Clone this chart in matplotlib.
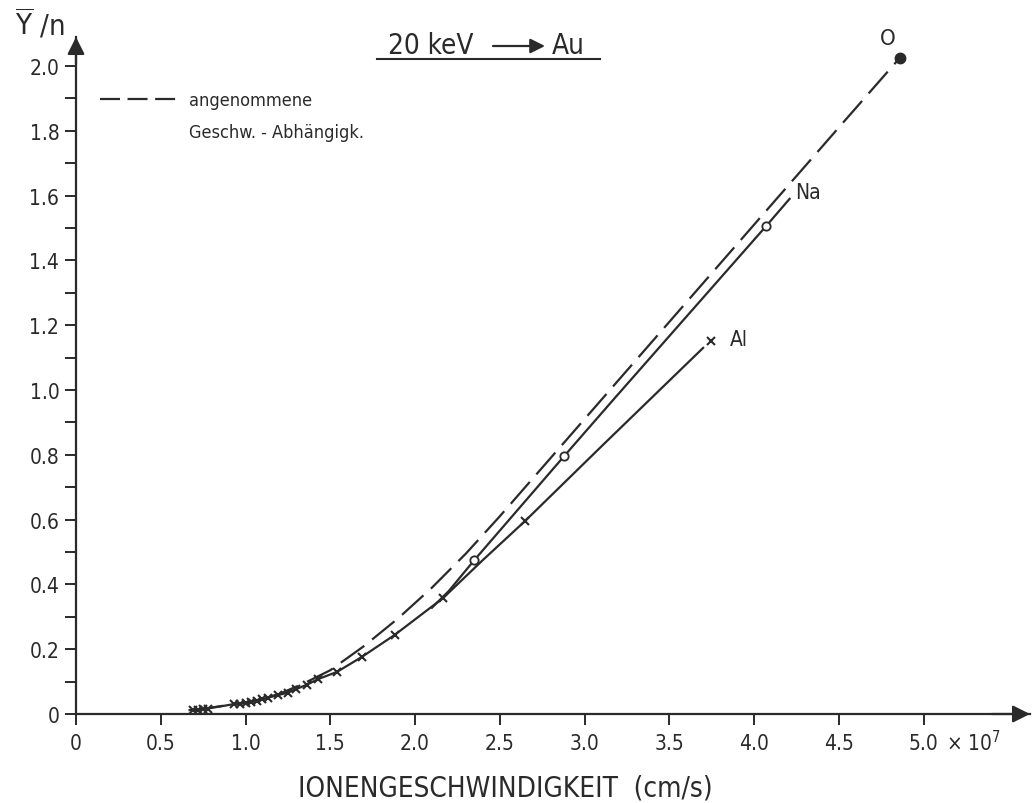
import numpy as np
import matplotlib.pyplot as plt
from matplotlib.lines import Line2D
from matplotlib.ticker import FixedLocator, MultipleLocator

plt.rcParams['font.family'] = 'DejaVu Sans'
plt.rcParams['font.stretch'] = 'condensed'
plt.rcParams['mathtext.fontset'] = 'dejavusans'

ink = '#2a2a2a'

# ion velocity in 1e7 cm/s, yield per ion Y/n
# assumed velocity dependence (dashed), ends at the O point
dash_x = [0.70, 0.90, 1.05, 1.20, 1.35, 1.50, 1.70, 1.90, 2.10, 2.30, 2.50, 3.00, 3.50, 4.00, 4.50, 4.86]
dash_y = [0.012, 0.028, 0.040, 0.062, 0.096, 0.135, 0.210, 0.295, 0.390, 0.495, 0.610, 0.910, 1.210, 1.510, 1.810, 2.025]

o_x = [4.86]
o_y = [2.025]

# Na: measured points and drawn curve
na_x = [2.35, 2.88, 4.07]
na_y = [0.475, 0.796, 1.505]
na_line_x = [2.10, 2.20, 2.35, 2.88, 3.17, 4.07, 4.21]
na_line_y = [0.328, 0.380, 0.475, 0.796, 0.970, 1.505, 1.590]

# Al: measured points and drawn curve
al_x = [0.69, 0.72, 0.75, 0.78, 0.935, 0.97, 1.005, 1.035, 1.065, 1.10, 1.13, 1.19, 1.25,
        1.30, 1.36, 1.43, 1.54, 1.686, 1.88, 2.166, 2.65, 3.745]
al_y = [0.012, 0.013, 0.014, 0.015, 0.032, 0.030, 0.033, 0.036, 0.040, 0.045, 0.050, 0.058, 0.066,
        0.077, 0.090, 0.108, 0.130, 0.176, 0.244, 0.358, 0.596, 1.151]
al_line_x = [0.67, 0.76, 0.86, 0.935, 1.005, 1.065, 1.13, 1.19, 1.25, 1.30, 1.36, 1.43, 1.54,
             1.686, 1.88, 2.166, 2.40, 2.65, 3.10, 3.70]
al_line_y = [0.012, 0.016, 0.024, 0.031, 0.033, 0.040, 0.050, 0.058, 0.066, 0.077, 0.090, 0.108, 0.130,
             0.176, 0.244, 0.358, 0.475, 0.596, 0.826, 1.130]

x_ticks = [0, 0.5, 1.0, 1.5, 2.0, 2.5, 3.0, 3.5, 4.0, 4.5, 5.0]
x_labels = ['0', '0.5', '1.0', '1.5', '2.0', '2.5', '3.0', '3.5', '4.0', '4.5', '5.0']
y_ticks = [0, 0.2, 0.4, 0.6, 0.8, 1.0, 1.2, 1.4, 1.6, 1.8, 2.0]
y_labels = ['0', '0.2', '0.4', '0.6', '0.8', '1.0', '1.2', '1.4', '1.6', '1.8', '2.0']

W, H = 1032, 804
fig = plt.figure(figsize=(W / 100, H / 100), dpi=100)
ax = fig.add_axes([76 / W, 89 / H, (1030 - 76) / W, (715 - 38) / H])
ax.set_xlim(0, (1030 - 76) / 169.5)
ax.set_ylim(0, (715 - 38) / 324)

for s in ['top', 'right']:
    ax.spines[s].set_visible(False)
for s in ['left', 'bottom']:
    ax.spines[s].set_linewidth(1.6)
    ax.spines[s].set_color(ink)

# arrow heads on the axes
ax.annotate('', xy=(1, 0), xycoords='axes fraction', xytext=(0.96, 0),
            arrowprops=dict(arrowstyle='-|>', mutation_scale=26, color=ink, lw=1.6,
                            shrinkA=0, shrinkB=0))
ax.annotate('', xy=(0, 1), xycoords='axes fraction', xytext=(0, 0.96),
            arrowprops=dict(arrowstyle='-|>', mutation_scale=26, color=ink, lw=1.6,
                            shrinkA=0, shrinkB=0))

ax.xaxis.set_major_locator(FixedLocator(x_ticks))
ax.set_xticklabels(x_labels)
ax.yaxis.set_major_locator(FixedLocator(y_ticks))
ax.set_yticklabels(y_labels)
ax.yaxis.set_minor_locator(MultipleLocator(0.1))
ax.tick_params(which='both', direction='out', length=8, width=1.4, color=ink,
               labelcolor=ink, labelsize=15)
ax.tick_params(axis='x', pad=6)
ax.tick_params(axis='y', pad=4)

# curves
ax.plot(dash_x, dash_y, color=ink, lw=1.6, dashes=(13, 4.5), solid_capstyle='round')
ax.plot(o_x, o_y, 'o', ms=7.5, color=ink, clip_on=False)
ax.plot(na_line_x, na_line_y, color=ink, lw=1.6)
ax.plot(na_x, na_y, 'o', ms=6, mfc='white', mec=ink, mew=1.3)
ax.plot(al_line_x, al_line_y, color=ink, lw=1.6)
ax.plot(al_x, al_y, 'x', ms=5.5, mec=ink, mew=1.5)

ax.text(4.79, 2.085, 'O', fontsize=16, color=ink, ha='center', va='center', clip_on=False)
ax.text(4.32, 1.61, 'Na', fontsize=15, color=ink, ha='center', va='center')
ax.text(3.91, 1.157, 'Al', fontsize=15, color=ink, ha='center', va='center')

# legend for the dashed curve
handles = [Line2D([], [], color=ink, lw=1.6, dashes=(9, 3.4)),
           Line2D([], [], linestyle='none')]
ax.legend(handles, ['angenommene', 'Geschw. - Abhängigk.'],
          loc='upper left', bbox_to_anchor=(100 / W, 1 - 92 / H), bbox_transform=fig.transFigure,
          frameon=False, fontsize=13, handlelength=4.2, handletextpad=0.75,
          labelspacing=0.75, borderpad=0, borderaxespad=0, labelcolor=ink)

# title with underline
fig.text(388 / W, 1 - 46 / H, '20 keV', fontsize=20, color=ink, ha='left', va='center')
fig.text(552 / W, 1 - 46 / H, 'Au', fontsize=20, color=ink, ha='left', va='center')
fig.add_artist(Line2D([377 / W, 600 / W], [1 - 60 / H, 1 - 60 / H], color=ink, lw=1.5,
                      transform=fig.transFigure))
ax.annotate('', xy=(545 / W, 1 - 47 / H), xycoords='figure fraction',
            xytext=(493 / W, 1 - 47 / H), textcoords='figure fraction',
            arrowprops=dict(arrowstyle='-|>', mutation_scale=22, color=ink, lw=1.6,
                            shrinkA=0, shrinkB=0))

# axis labels
fig.text(15 / W, 1 - 24 / H, r'$\overline{\mathrm{Y}}$ /n', fontsize=21, color=ink,
         ha='left', va='center')
ax.set_xlabel('IONENGESCHWINDIGKEIT  (cm/s)', fontsize=20, color=ink)
ax.xaxis.set_label_coords((505 - 76) / (1030 - 76), -(775 - 715) / (715 - 38))
ax.annotate(r'$\times$ 10$^{7}$', xy=(5.0, 0), xycoords='data', xytext=(16, -20),
            textcoords='offset points', fontsize=15, color=ink, ha='left', va='center',
            annotation_clip=False)

fig.savefig('out.png', dpi=100)
